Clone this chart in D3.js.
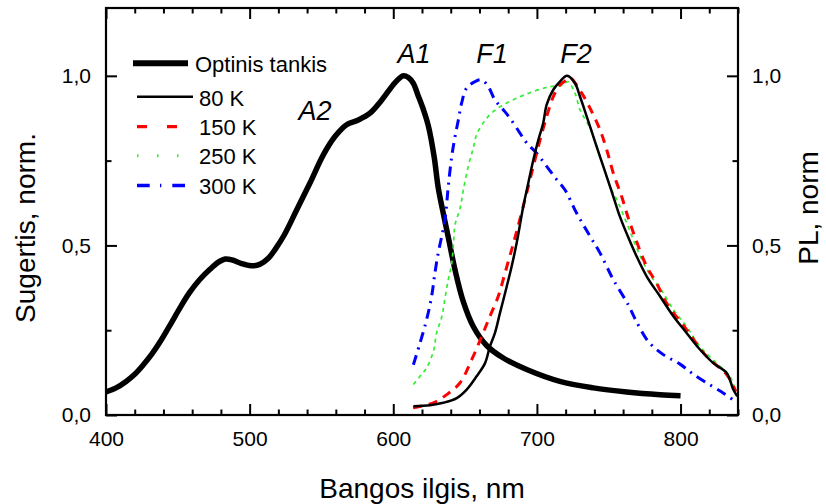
<!DOCTYPE html>
<html><head><meta charset="utf-8">
<script src="https://cdn.jsdelivr.net/npm/d3@7"></script>
<style>
body{margin:0;background:#fff}
svg{display:block}
text{font-family:"Liberation Sans",Arial,Helvetica,sans-serif;fill:#000}
</style>
</head><body>
<svg id="chart" width="826" height="504"></svg>
<script>
// ---------- data ----------
const xTickValues = [400, 500, 600, 700, 800];
const xMinorValues = [420, 440, 460, 480, 520, 540, 560, 580, 620, 640, 660, 680, 720, 740, 760, 780, 820, 840];
const yTickValues = [0, 0.5, 1.0];
const yMinorValues = [0.25, 0.75];

// Optinis tankis (absorption)
const absNm  = [400, 407, 414, 420, 426, 432, 438, 445, 451.5, 458, 465, 472, 478, 483, 488, 494, 501, 507, 513, 518, 524, 532.8, 542, 551.3, 559.4, 567.5, 575.7, 583.8, 592, 600, 603.5, 607, 610.5, 614, 617, 621, 624.5, 628.5, 631.3, 634.8, 638.5, 643, 648.7, 655.7, 665, 676.6, 692.9, 716, 739.3, 762.5, 785.7, 800];
const absVal = [0.068, 0.080, 0.099, 0.120, 0.148, 0.180, 0.218, 0.268, 0.316, 0.360, 0.398, 0.428, 0.450, 0.460, 0.457, 0.447, 0.440, 0.444, 0.462, 0.490, 0.530, 0.605, 0.684, 0.767, 0.821, 0.856, 0.870, 0.890, 0.929, 0.974, 0.990, 1.0, 0.995, 0.978, 0.945, 0.900, 0.851, 0.760, 0.670, 0.595, 0.520, 0.428, 0.335, 0.261, 0.205, 0.168, 0.134, 0.099, 0.080, 0.068, 0.060, 0.057];

// PL 80 K
const pl80Nm  = [614, 625.6, 634.8, 644.2, 651.1, 658, 663.9, 667.3, 670.8, 674.3, 679, 682.4, 685.9, 690.5, 694, 697.5, 701, 704.4, 706.8, 711.4, 716, 721, 726.5, 730, 734.7, 739.3, 743.9, 748.6, 753.2, 757.8, 763, 769.4, 776.4, 785.7, 795, 804.2, 813.5, 822.8, 832.1, 836.7, 839.5];
const pl80Val = [0.026, 0.029, 0.036, 0.050, 0.075, 0.114, 0.153, 0.202, 0.242, 0.301, 0.379, 0.438, 0.507, 0.615, 0.684, 0.752, 0.811, 0.861, 0.915, 0.959, 0.983, 1.0, 0.978, 0.939, 0.880, 0.821, 0.762, 0.703, 0.644, 0.585, 0.530, 0.468, 0.409, 0.350, 0.291, 0.242, 0.193, 0.153, 0.124, 0.075, 0.055];

// PL 150 K
const pl150Nm  = [613.8, 627.9, 637.2, 646.5, 654.6, 661.6, 667.3, 673.1, 677.8, 682.4, 686, 691.7, 697.5, 702.2, 706.8, 711.4, 716, 720.7, 723, 731.2, 738.1, 743.9, 748.6, 753.2, 759, 763.6, 768.5, 776.4, 783.3, 790.3, 804.2, 818.1, 832.1, 838.6];
const pl150Val = [0.021, 0.036, 0.060, 0.095, 0.163, 0.232, 0.291, 0.350, 0.419, 0.487, 0.543, 0.635, 0.733, 0.811, 0.880, 0.939, 0.973, 0.988, 0.995, 0.949, 0.895, 0.841, 0.782, 0.713, 0.644, 0.581, 0.522, 0.438, 0.389, 0.330, 0.252, 0.173, 0.119, 0.069];

// PL 250 K
const pl250Nm  = [614, 618.6, 623.2, 627.9, 630.2, 633.7, 636, 638.3, 640.7, 642, 643, 646.5, 648.8, 652.2, 655.7, 658, 665, 674.3, 685.9, 697.5, 709.1, 718.3, 721.5, 726.5, 730, 737, 741.6, 746.3, 750.9, 755.6, 762.5, 772.5, 779.5, 786.5, 795, 804.2, 813.5, 825.1, 834.4, 838];
const pl250Val = [0.090, 0.114, 0.139, 0.188, 0.242, 0.288, 0.345, 0.399, 0.448, 0.510, 0.561, 0.610, 0.664, 0.733, 0.787, 0.826, 0.875, 0.909, 0.934, 0.954, 0.968, 0.973, 0.983, 0.949, 0.900, 0.845, 0.792, 0.733, 0.674, 0.635, 0.566, 0.463, 0.409, 0.369, 0.311, 0.261, 0.202, 0.153, 0.114, 0.075];

// PL 300 K
const pl300Nm  = [614, 618.6, 623.2, 626.7, 629, 631.3, 633.5, 636, 638.3, 640.7, 643, 645.3, 647.6, 651.1, 656.9, 661.6, 666.2, 670.8, 676.6, 681.3, 688.2, 692.9, 699.8, 706.8, 713.8, 719.5, 727.7, 737, 743.9, 753.2, 763.6, 768.3, 777.5, 788, 799.6, 807.7, 818.1, 829.7, 838];
const pl300Val = [0.148, 0.212, 0.281, 0.350, 0.419, 0.478, 0.522, 0.576, 0.674, 0.762, 0.821, 0.870, 0.920, 0.964, 0.983, 0.988, 0.968, 0.929, 0.900, 0.875, 0.831, 0.802, 0.772, 0.733, 0.694, 0.664, 0.595, 0.527, 0.478, 0.399, 0.325, 0.284, 0.217, 0.178, 0.150, 0.124, 0.095, 0.065, 0.040];

const seriesNames = ["Optinis tankis", "80 K", "150 K", "250 K", "300 K"];
const annotLabels = ["A1", "A2", "F1", "F2"];
const annotNm     = [614.4, 545.5, 668.7, 727.2];
const annotVal    = [1.038, 0.870, 1.038, 1.038];

const xTitle = "Bangos ilgis, nm";
const yTitleLeft = "Sugertis, norm.";
const yTitleRight = "PL, norm";

// ---------- chart ----------
const svg = d3.select("#chart");
const L = 106, R = 738, T = 8, B = 415;
const x = d3.scaleLinear().domain([400, 840]).range([L, R]);
const y = d3.scaleLinear().domain([0, 1.2]).range([B, T]);
const fmt = d => d3.format(".1f")(d).replace(".", ",");

const styles = [
  {color:"#000", width:5.5, dash:null},
  {color:"#000", width:2.5, dash:null},
  {color:"#ff0000", width:3, dash:"9,7"},
  {color:"#33ee33", width:1.7, dash:"4,4"},
  {color:"#0000ff", width:3, dash:"10,6,2,6"}
];
const series = [
  d3.zip(absNm, absVal),
  d3.zip(pl80Nm, pl80Val),
  d3.zip(pl150Nm, pl150Val),
  d3.zip(pl250Nm, pl250Val),
  d3.zip(pl300Nm, pl300Val)
];

const line = d3.line().x(d => x(d[0])).y(d => y(d[1])).curve(d3.curveCatmullRom.alpha(0.5));

// draw order: thick absorption, then 300K, 250K, 150K, 80K
const order = [0, 4, 3, 2, 1];
const gLines = svg.append("g");
order.forEach(i => {
  gLines.append("path")
    .datum(series[i])
    .attr("d", line)
    .attr("fill", "none")
    .attr("stroke", styles[i].color)
    .attr("stroke-width", styles[i].width)
    .attr("stroke-linejoin", "round")
    .attr("stroke-dasharray", styles[i].dash);
});

// axes
function styleAxis(g) {
  g.select(".domain").remove();
  g.selectAll(".tick line").attr("stroke", "#000").attr("stroke-width", 2);
  g.selectAll(".tick text").style("font-size", "21px").attr("fill", "#000");
}
svg.append("g").attr("transform", `translate(0,${B})`)
  .call(d3.axisBottom(x).tickValues(xTickValues).tickSizeInner(-11).tickSizeOuter(0).tickPadding(16.5).tickFormat(d3.format("d")))
  .call(styleAxis);
svg.append("g").attr("transform", `translate(0,${B})`)
  .call(d3.axisBottom(x).tickValues(xMinorValues).tickSizeInner(-5.5).tickSizeOuter(0).tickFormat(""))
  .call(styleAxis);
svg.append("g").attr("transform", `translate(0,${T})`)
  .call(d3.axisTop(x).tickValues(xTickValues).tickSizeInner(-11).tickSizeOuter(0).tickFormat(""))
  .call(styleAxis);
svg.append("g").attr("transform", `translate(0,${T})`)
  .call(d3.axisTop(x).tickValues(xMinorValues).tickSizeInner(-5.5).tickSizeOuter(0).tickFormat(""))
  .call(styleAxis);
svg.append("g").attr("transform", `translate(${L},0)`)
  .call(d3.axisLeft(y).tickValues(yTickValues).tickSizeInner(-11).tickSizeOuter(0).tickPadding(15).tickFormat(fmt))
  .call(styleAxis);
svg.append("g").attr("transform", `translate(${L},0)`)
  .call(d3.axisLeft(y).tickValues(yMinorValues).tickSizeInner(-5.5).tickSizeOuter(0).tickFormat(""))
  .call(styleAxis);
svg.append("g").attr("transform", `translate(${R},0)`)
  .call(d3.axisRight(y).tickValues(yTickValues).tickSizeInner(-11).tickSizeOuter(0).tickPadding(14).tickFormat(fmt))
  .call(styleAxis);
svg.append("g").attr("transform", `translate(${R},0)`)
  .call(d3.axisRight(y).tickValues(yMinorValues).tickSizeInner(-5.5).tickSizeOuter(0).tickFormat(""))
  .call(styleAxis);

// frame
svg.append("rect").attr("x", L).attr("y", T).attr("width", R - L).attr("height", B - T)
  .attr("fill", "none").attr("stroke", "#000").attr("stroke-width", 2.2);

// axis titles
svg.append("text").attr("x", (L + R) / 2).attr("y", 498).attr("text-anchor", "middle")
  .style("font-size", "28px").text(xTitle);
svg.append("text").attr("transform", "translate(35,228) rotate(-90)").attr("text-anchor", "middle")
  .style("font-size", "28px").text(yTitleLeft);
svg.append("text").attr("transform", "translate(818,208) rotate(-90)").attr("text-anchor", "middle")
  .style("font-size", "28px").text(yTitleRight);

// annotations
annotLabels.forEach((lab, i) => {
  svg.append("text").attr("x", x(annotNm[i])).attr("y", y(annotVal[i]))
    .attr("text-anchor", "middle").style("font-size", "27px").style("font-style", "italic").text(lab);
});

// legend
const legRows = [
  {y1:63.3, x1:133, x2:188, tx:195, ty:72, dash:null, width:6},
  {y1:96.7, x1:137, x2:193, tx:199, ty:106, dash:null, width:2.5},
  {y1:126.7, x1:137, x2:178, tx:199, ty:135, dash:"10,20", width:3.3},
  {y1:155.7, x1:137, x2:179, tx:199, ty:164, dash:"1.5,18.5", width:3},
  {y1:185.5, x1:137, x2:186, tx:199, ty:193.5, dash:"12.7,10.3,1.3,11", width:3.3}
];
const gLeg = svg.append("g");
legRows.forEach((r, i) => {
  gLeg.append("line").attr("x1", r.x1).attr("x2", r.x2).attr("y1", r.y1).attr("y2", r.y1)
    .attr("stroke", styles[i].color).attr("stroke-width", r.width)
    .attr("stroke-dasharray", r.dash);
  gLeg.append("text").attr("x", r.tx).attr("y", r.ty).style("font-size", "22px").text(seriesNames[i]);
});
</script>
</body></html>
